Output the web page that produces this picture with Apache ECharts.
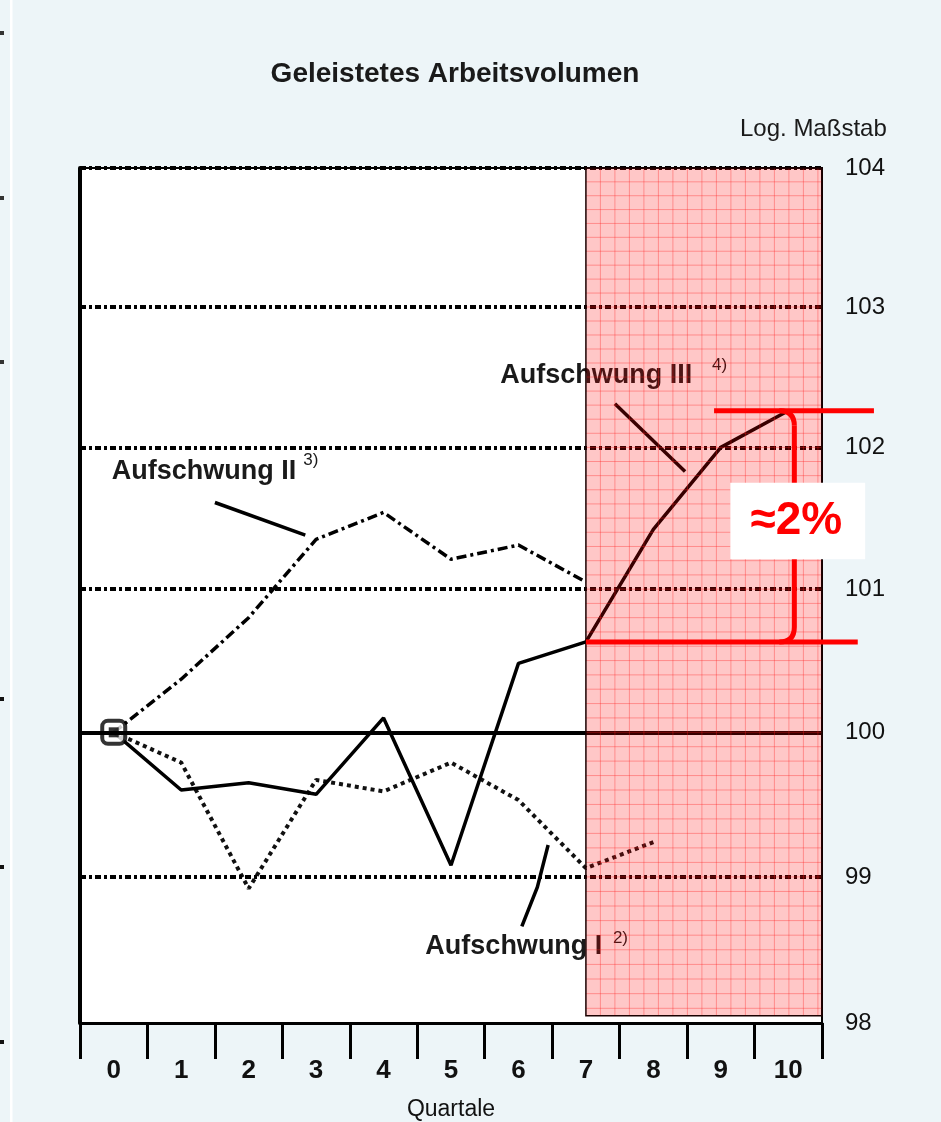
<!DOCTYPE html>
<html>
<head>
<meta charset="utf-8">
<script src="https://cdn.jsdelivr.net/npm/echarts@6/dist/echarts.min.js"></script>
<style>
html,body{margin:0;padding:0;background:#EDF5F8;}
#c{width:941px;height:1122px;}
</style>
</head>
<body>
<div id="c"></div>
<script>
// ---- data ----
const quarters = ['0','1','2','3','4','5','6','7','8','9','10'];
const yTickValues = [98, 99, 100, 101, 102, 103, 104];
const gridLineValues = [99, 101, 102, 103, 104];
const baseLineValue = 100;
const aufschwungI   = [100, 99.79, 98.92, 99.67, 99.59, 99.79, 99.53, 99.06, 99.24];
const aufschwungII  = [100, 100.37, 100.8, 101.35, 101.54, 101.21, 101.31, 101.05];
const aufschwungIII = [100, 99.6, 99.65, 99.57, 100.1, 99.08, 100.48, 100.63, 101.42, 102.0, 102.26];
const shadeFromQuarter = 7;
const annotationText = '≈2%';

// ---- annotation placement (data coordinates) ----
const labels = [
  {text: 'Aufschwung II',  sup: '3)', at: [-0.03, 101.83], supAt: [2.81, 101.91], leader: [[1.50, 101.61], [2.84, 101.38]]},
  {text: 'Aufschwung III', sup: '4)', at: [5.73, 102.51],  supAt: [8.87, 102.58], leader: [[7.43, 102.31], [8.47, 101.83]]},
  {text: 'Aufschwung I',   sup: '2)', at: [4.62, 98.52],   supAt: [7.40, 98.58],  leader: [[6.05, 98.66], [6.28, 98.93], [6.44, 99.22]]}
];

const FONT = '"Liberation Sans", Arial, Helvetica, sans-serif';
const toPts = arr => arr.map((v, i) => [i, v]);

const chart = echarts.init(document.getElementById('c'), null, {renderer: 'canvas'});

const option = {
  backgroundColor: '#EDF5F8',
  animation: false,
  title: [
    {text: 'Geleistetes Arbeitsvolumen', left: 450, top: 55, textAlign: 'center',
     textStyle: {fontFamily: FONT, fontSize: 28, fontWeight: 'bold', color: '#1a1a1a'}},
    {text: 'Log. Maßstab', left: 735, top: 112,
     textStyle: {fontFamily: FONT, fontSize: 24, fontWeight: 'normal', color: '#1a1a1a'}}
  ],
  grid: {left: 80, right: 119, top: 168, bottom: 99, show: true, containLabel: false,
         outerBoundsMode: 'none',
         backgroundColor: '#ffffff', borderColor: '#000', borderWidth: 2},
  xAxis: [
    {type: 'value', min: -0.5, max: 10.5, show: false, position: 'top'},
    {type: 'category', data: quarters, position: 'bottom', boundaryGap: true,
     axisLine: {lineStyle: {color: '#000', width: 3}},
     axisTick: {show: true, length: 36, lineStyle: {color: '#000', width: 3}},
     axisLabel: {margin: 35, fontFamily: FONT, fontSize: 26, fontWeight: 'bold', color: '#111'},
     name: 'Quartale', nameLocation: 'middle', nameGap: 75,
     nameTextStyle: {fontFamily: FONT, fontSize: 23, color: '#111'},
     splitLine: {show: false}}
  ],
  yAxis: [
    {type: 'log', logBase: 10, min: 98, max: 104, position: 'right',
     axisLine: {show: false}, axisTick: {show: false}, splitLine: {show: false},
     axisLabel: {customValues: yTickValues, margin: 23, fontFamily: FONT, fontSize: 24, color: '#111',
                 formatter: v => String(Math.round(v))}},
    {type: 'log', logBase: 10, min: 98, max: 104, position: 'left',
     axisLine: {show: true, lineStyle: {color: '#000', width: 4}},
     axisTick: {show: false}, axisLabel: {show: false}, splitLine: {show: false}}
  ],
  series: [
    {name: 'Gitter', type: 'line', data: [], xAxisIndex: 0, yAxisIndex: 0, z: 2, silent: true,
     markLine: {symbol: 'none', silent: true, label: {show: false}, animation: false,
       data: gridLineValues.map(v => ({yAxis: v, lineStyle: {color: '#000', width: 4, type: [6, 3, 3, 3]}}))
             .concat([{yAxis: baseLineValue, lineStyle: {color: '#000', width: 4, type: 'solid'}}])}},
    {name: 'Aufschwung I', type: 'line', data: toPts(aufschwungI), xAxisIndex: 0, yAxisIndex: 0,
     symbol: 'none', z: 3, lineStyle: {color: '#111', width: 4, type: [4, 4]}},
    {name: 'Aufschwung II', type: 'line', data: toPts(aufschwungII), xAxisIndex: 0, yAxisIndex: 0,
     symbol: 'none', z: 3, lineStyle: {color: '#000', width: 3.5, type: [10, 4, 3, 4]}},
    {name: 'Aufschwung III', type: 'line', data: toPts(aufschwungIII), xAxisIndex: 0, yAxisIndex: 0,
     symbol: 'none', z: 3, lineStyle: {color: '#000', width: 3.5, type: 'solid'}},
    {name: 'Start', type: 'scatter', data: [[0, aufschwungIII[0]]], xAxisIndex: 0, yAxisIndex: 0,
     symbol: 'roundRect', symbolSize: 23, z: 4,
     itemStyle: {color: '#fff', borderColor: '#000', borderWidth: 4}},
    {name: 'StartInner', type: 'scatter', data: [[0, aufschwungIII[0]]], xAxisIndex: 0, yAxisIndex: 0,
     symbol: 'rect', symbolSize: 10, z: 5, itemStyle: {color: '#000'}},
    // labels and leader lines
    {name: 'Labels', type: 'custom', xAxisIndex: 0, yAxisIndex: 0, z: 4, clip: false, silent: true,
     data: [[0, 100]],
     renderItem: (params, api) => {
       const children = [];
       labels.forEach(l => {
         const p = api.coord(l.at);
         children.push({type: 'text', x: p[0], y: p[1], style: {text: l.text, fill: '#1a1a1a',
           fontFamily: FONT, fontSize: 27, fontWeight: 'bold', align: 'left', verticalAlign: 'middle'}});
         const s = api.coord(l.supAt);
         children.push({type: 'text', x: s[0], y: s[1], style: {text: l.sup, fill: '#1a1a1a',
           fontFamily: FONT, fontSize: 17, fontWeight: 'normal', align: 'left', verticalAlign: 'middle'}});
         const pts = l.leader.map(q => api.coord(q));
         children.push({type: 'polyline', shape: {points: pts}, style: {stroke: '#000', lineWidth: 3.5, fill: null}});
       });
       return {type: 'group', children};
     }},
    // shaded forecast region (semi-transparent overlay)
    {name: 'Shade', type: 'custom', xAxisIndex: 0, yAxisIndex: 0, z: 6, silent: true,
     data: [[shadeFromQuarter, 104]],
     renderItem: (params, api) => {
       const a = api.coord([shadeFromQuarter, 104]);
       const b = api.coord([10.5, 98.05]);
       const children = [{type: 'rect', shape: {x: a[0], y: a[1], width: b[0] - a[0], height: b[1] - a[1]},
                          style: {fill: 'rgba(255,0,0,0.22)'}}];
       for (let x = a[0] + 14.5; x < b[0] - 1; x += 14.5) {
         children.push({type: 'line', shape: {x1: x, y1: a[1], x2: x, y2: b[1]},
                        style: {stroke: 'rgba(255,30,30,0.35)', lineWidth: 1}});
       }
       for (let k = 1; k < 60; k++) {
         const v = 104 - k * 0.1;
         if (v <= 98.07) break;
         const y = api.coord([shadeFromQuarter, v])[1];
         children.push({type: 'line', shape: {x1: a[0], y1: y, x2: b[0], y2: y},
                        style: {stroke: 'rgba(255,30,30,0.35)', lineWidth: 1}});
       }
       children.push({type: 'rect', shape: {x: a[0], y: a[1], width: b[0] - a[0], height: b[1] - a[1]},
                      style: {fill: null, stroke: '#1a0000', lineWidth: 1.5}});
       return {type: 'group', children};
     }},
    // red bracket annotation
    {name: 'Bracket', type: 'custom', xAxisIndex: 0, yAxisIndex: 0, z: 7, clip: false, silent: true,
     data: [[10, aufschwungIII[10]]],
     renderItem: (params, api) => {
       const top = aufschwungIII[10], bot = aufschwungIII[shadeFromQuarter];
       const t1 = api.coord([8.90, top]), t2 = api.coord([11.27, top]);
       const b1 = api.coord([shadeFromQuarter, bot]), b2 = api.coord([11.03, bot]);
       const bx = api.coord([10.09, top])[0];
       const r = 15;
       const red = '#ff0000';
       const st = {stroke: red, lineWidth: 5, fill: null};
       const boxA = api.coord([9.14, 101.75]), boxB = api.coord([11.14, 101.21]);
       const tc = api.coord([10.12, 101.48]);
       return {type: 'group', children: [
         {type: 'line', shape: {x1: t1[0], y1: t1[1], x2: t2[0], y2: t2[1]}, style: st},
         {type: 'line', shape: {x1: b1[0], y1: b1[1], x2: b2[0], y2: b2[1]}, style: st},
         {type: 'bezierCurve', shape: {x1: bx - r, y1: t1[1], cpx1: bx, cpy1: t1[1], x2: bx, y2: t1[1] + r}, style: st},
         {type: 'line', shape: {x1: bx, y1: t1[1] + r, x2: bx, y2: b1[1] - r}, style: st},
         {type: 'bezierCurve', shape: {x1: bx, y1: b1[1] - r, cpx1: bx, cpy1: b1[1], x2: bx - r, y2: b1[1]}, style: st},
         {type: 'rect', shape: {x: boxA[0], y: boxA[1], width: boxB[0] - boxA[0], height: boxB[1] - boxA[1]},
          style: {fill: '#ffffff'}},
         {type: 'text', x: tc[0], y: tc[1], style: {text: annotationText, fill: red, fontFamily: FONT,
           fontSize: 46, fontWeight: 'bold', align: 'center', verticalAlign: 'middle'}}
       ]};
     }}
  ],
  graphic: [
    {type: 'rect', left: 10, top: 0, shape: {width: 2.5, height: 1122}, style: {fill: '#ffffff'}, z: -1},
    {type: 'rect', left: 0, top: 31, shape: {width: 4, height: 4}, style: {fill: '#333'}},
    {type: 'rect', left: 0, top: 196, shape: {width: 4, height: 4}, style: {fill: '#333'}},
    {type: 'rect', left: 0, top: 360, shape: {width: 4, height: 4}, style: {fill: '#333'}},
    {type: 'rect', left: 0, top: 697, shape: {width: 4, height: 4}, style: {fill: '#111'}},
    {type: 'rect', left: 0, top: 865, shape: {width: 4, height: 4}, style: {fill: '#111'}},
    {type: 'rect', left: 0, top: 1040, shape: {width: 4, height: 4}, style: {fill: '#111'}}
  ]
};
chart.setOption(option);
</script>
</body>
</html>
